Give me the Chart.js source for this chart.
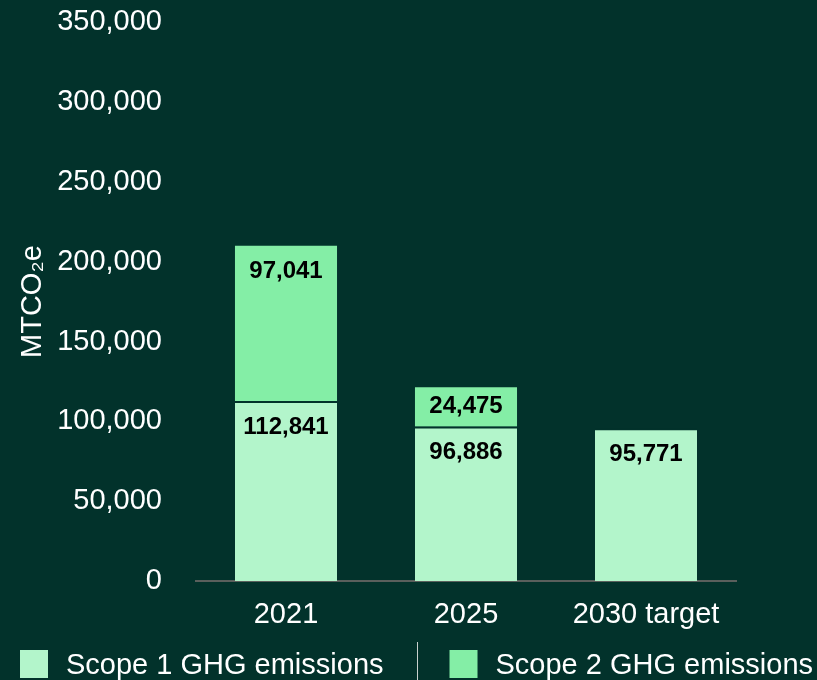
<!DOCTYPE html>
<html>
<head>
<meta charset="utf-8">
<script src="https://cdn.jsdelivr.net/npm/chart.js@4/dist/chart.umd.min.js"></script>
<style>
  html, body { margin: 0; padding: 0; background: #02322b; }
  #wrap { width: 817px; height: 680px; }
</style>
</head>
<body>
<div id="wrap"><canvas id="ghgChart"></canvas></div>
<script>
var categories = ["2021", "2025", "2030 target"];
var scope1 = [112841, 96886, 95771];
var scope2 = [97041, 24475, null];
var yTicks = [0, 50000, 100000, 150000, 200000, 250000, 300000, 350000];

var BG = '#02322b';
var FONT = '"Liberation Sans", Arial, sans-serif';

// labels inside the bars, near the top of each segment
var barLabels = {
    id: 'barLabels',
    afterDatasetsDraw: function(chart) {
        var ctx = chart.ctx;
        ctx.save();
        ctx.font = 'bold 24px ' + FONT;
        ctx.fillStyle = '#000';
        ctx.textAlign = 'center';
        ctx.textBaseline = 'middle';
        chart.data.datasets.forEach(function(ds, i) {
            var meta = chart.getDatasetMeta(i);
            meta.data.forEach(function(bar, j) {
                var v = ds.data[j];
                if (v == null) return;
                var top = bar.y, bottom = bar.base;
                var y = Math.min(top + 26, (top + bottom) / 2);
                ctx.fillText(v.toLocaleString('en-US'), bar.x, y);
            });
        });
        ctx.restore();
    }
};

// legend along the bottom with a divider between the two entries
var bottomLegend = {
    id: 'bottomLegend',
    afterDraw: function(chart) {
        var ctx = chart.ctx;
        var top = 650, size = 28, gap = 18, spacing = 66;
        var x = 20;
        ctx.save();
        ctx.font = '29px ' + FONT;
        ctx.textBaseline = 'middle';
        ctx.textAlign = 'left';
        chart.data.datasets.forEach(function(ds, i) {
            if (i > 0) {
                var dx = Math.round(x - spacing / 2) + 0.5;
                ctx.strokeStyle = '#c9d1ce';
                ctx.lineWidth = 1;
                ctx.beginPath();
                ctx.moveTo(dx, top - 8);
                ctx.lineTo(dx, top + size + 4);
                ctx.stroke();
            }
            ctx.fillStyle = ds.backgroundColor;
            ctx.fillRect(x, top, size, size);
            ctx.fillStyle = '#ffffff';
            ctx.fillText(ds.label, x + size + gap, top + size / 2 + 2);
            x += size + gap + ctx.measureText(ds.label).width + spacing;
        });
        ctx.restore();
    }
};

Chart.defaults.font.family = FONT;
Chart.defaults.color = '#ffffff';

var ctx = document.getElementById('ghgChart').getContext('2d');
var ghgChart = new Chart(ctx, {
    type: 'bar',
    data: {
        labels: categories,
        datasets: [{
            label: 'Scope 1 GHG emissions',
            data: scope1,
            backgroundColor: '#b3f5cb',
            borderColor: BG,
            borderWidth: { top: 2, left: 0, right: 0, bottom: 0 },
            barPercentage: 0.567,
            categoryPercentage: 1
        }, {
            label: 'Scope 2 GHG emissions',
            data: scope2,
            backgroundColor: '#84eea6',
            borderColor: BG,
            borderWidth: 0,
            barPercentage: 0.567,
            categoryPercentage: 1
        }]
    },
    options: {
        responsive: true,
        maintainAspectRatio: false,
        animation: false,
        layout: { padding: { left: 6, right: 81, top: 0, bottom: 32 } },
        plugins: {
            tooltip: { enabled: false },
            legend: { display: false }
        },
        scales: {
            x: {
                stacked: true,
                grid: { display: false, drawTicks: false },
                border: { display: true, color: '#5a5f5c', width: 2 },
                ticks: { color: '#ffffff', font: { size: 29 }, padding: 16 }
            },
            y: {
                stacked: true,
                min: 0,
                max: 350000,
                afterBuildTicks: function(axis) {
                    axis.ticks = yTicks.map(function(v) { return { value: v }; });
                },
                afterFit: function(axis) {
                    axis.width = 190;
                    axis.paddingTop = 22;
                },
                grid: { display: false, drawTicks: false },
                border: { display: false },
                title: {
                    display: true,
                    text: 'MTCO\u2082e',
                    color: '#ffffff',
                    font: { size: 29 },
                    padding: { top: 10, bottom: 8 }
                },
                ticks: {
                    color: '#ffffff',
                    font: { size: 29 },
                    padding: 34,
                    callback: function(v) { return v.toLocaleString('en-US'); }
                }
            }
        }
    },
    plugins: [barLabels, bottomLegend]
});
</script>
</body>
</html>
